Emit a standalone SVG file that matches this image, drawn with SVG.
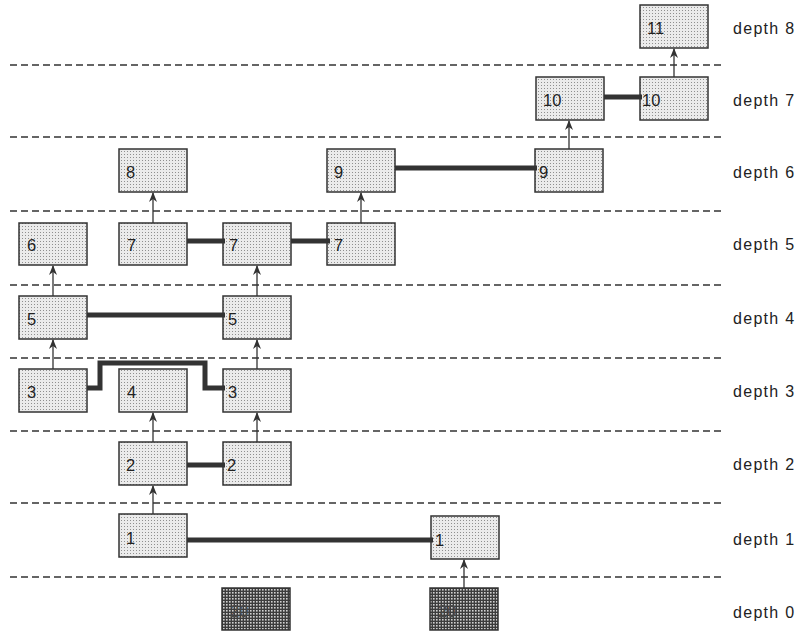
<svg xmlns="http://www.w3.org/2000/svg" width="799" height="634" viewBox="0 0 799 634">
<defs>
<pattern id="dots" width="3" height="3" patternUnits="userSpaceOnUse">
<rect width="3" height="3" fill="#ebebeb"/>
<rect x="1" y="1" width="1" height="1" fill="#8f8f8f"/>
</pattern>
<pattern id="dark" width="3" height="3" patternUnits="userSpaceOnUse">
<rect width="3" height="3" fill="#3c3c3c"/>
<rect x="1" y="1" width="1.6" height="1.6" fill="#d0d0d0"/>
</pattern>
<marker id="arr" viewBox="0 0 10 10" refX="9" refY="5" markerWidth="10" markerHeight="10" orient="auto" markerUnits="userSpaceOnUse">
<path d="M0,1 L10,5 L0,9 L3,5 Z" fill="#333"/>
</marker>
</defs>
<style>
.box{fill:url(#dots);stroke:#333;stroke-width:1.5}
.dbox{fill:url(#dark);stroke:#333;stroke-width:1.5}
.num{font-family:"Liberation Sans",Arial,sans-serif;font-size:16.5px;fill:#222}
.dnum{font-family:"Liberation Sans",Arial,sans-serif;font-size:16.5px;fill:#4a4a4a}
.lbl{font-family:"Liberation Sans",Arial,sans-serif;font-size:16px;letter-spacing:1.3px;fill:#222}
.dash{stroke:#333;stroke-width:1.3;stroke-dasharray:7 4;fill:none}
.arrow{stroke:#333;stroke-width:1.3;fill:none;marker-end:url(#arr)}
.link{stroke:#333;stroke-width:5;fill:none}
</style>
<g id="separators">
<line class="dash" x1="10" y1="65" x2="725" y2="65"/>
<line class="dash" x1="10" y1="137" x2="725" y2="137"/>
<line class="dash" x1="10" y1="211" x2="725" y2="211"/>
<line class="dash" x1="10" y1="285" x2="725" y2="285"/>
<line class="dash" x1="10" y1="358" x2="725" y2="358"/>
<line class="dash" x1="10" y1="431" x2="725" y2="431"/>
<line class="dash" x1="10" y1="503" x2="725" y2="503"/>
<line class="dash" x1="10" y1="577" x2="725" y2="577"/>
</g>
<g id="labels">
<text class="lbl" x="733" y="34">depth 8</text>
<text class="lbl" x="733" y="106">depth 7</text>
<text class="lbl" x="733" y="178">depth 6</text>
<text class="lbl" x="733" y="250">depth 5</text>
<text class="lbl" x="733" y="324">depth 4</text>
<text class="lbl" x="733" y="397">depth 3</text>
<text class="lbl" x="733" y="470">depth 2</text>
<text class="lbl" x="733" y="545">depth 1</text>
<text class="lbl" x="733" y="618">depth 0</text>
</g>
<g id="n11"><rect class="box" x="640" y="5" width="68" height="43"/><text class="num" x="647" y="34">11</text></g>
<g id="n10a"><rect class="box" x="536" y="77" width="68" height="43"/><text class="num" x="543" y="106">10</text></g>
<g id="n10b"><rect class="box" x="640" y="77" width="68" height="43"/><text class="num" x="642" y="106">10</text></g>
<g id="n8"><rect class="box" x="119" y="149" width="68" height="43"/><text class="num" x="126" y="178">8</text></g>
<g id="n9a"><rect class="box" x="327" y="149" width="68" height="43"/><text class="num" x="334" y="178">9</text></g>
<g id="n9b"><rect class="box" x="535" y="149" width="68" height="43"/><text class="num" x="539" y="178">9</text></g>
<g id="n6"><rect class="box" x="19" y="223" width="68" height="42"/><text class="num" x="27" y="251">6</text></g>
<g id="n7a"><rect class="box" x="119" y="223" width="68" height="42"/><text class="num" x="127" y="251">7</text></g>
<g id="n7b"><rect class="box" x="223" y="223" width="68" height="42"/><text class="num" x="229" y="251">7</text></g>
<g id="n7c"><rect class="box" x="327" y="223" width="68" height="42"/><text class="num" x="334" y="251">7</text></g>
<g id="n5a"><rect class="box" x="19" y="296" width="68" height="43"/><text class="num" x="27" y="325">5</text></g>
<g id="n5b"><rect class="box" x="223" y="296" width="68" height="43"/><text class="num" x="228" y="325">5</text></g>
<g id="n3a"><rect class="box" x="19" y="369" width="68" height="43"/><text class="num" x="27" y="398">3</text></g>
<g id="n4"><rect class="box" x="119" y="369" width="68" height="43"/><text class="num" x="127" y="398">4</text></g>
<g id="n3b"><rect class="box" x="223" y="369" width="68" height="43"/><text class="num" x="228" y="398">3</text></g>
<g id="n2a"><rect class="box" x="119" y="442" width="68" height="43"/><text class="num" x="126" y="471">2</text></g>
<g id="n2b"><rect class="box" x="223" y="442" width="68" height="43"/><text class="num" x="227" y="471">2</text></g>
<g id="n1a"><rect class="box" x="119" y="514" width="68" height="43"/><text class="num" x="126" y="544">1</text></g>
<g id="n1b"><rect class="box" x="431" y="516" width="68" height="43"/><text class="num" x="435" y="546">1</text></g>
<g id="n20a"><rect class="dbox" x="222" y="588" width="68" height="42"/><text class="dnum" x="230" y="617">20</text></g>
<g id="n20b"><rect class="dbox" x="430" y="588" width="68" height="42"/><text class="dnum" x="438" y="617">20</text></g>
<g id="connectors">
<line class="arrow" x1="464" y1="588" x2="464" y2="560"/>
<line class="arrow" x1="153" y1="514" x2="153" y2="486"/>
<line class="arrow" x1="153" y1="442" x2="153" y2="413"/>
<line class="arrow" x1="257" y1="442" x2="257" y2="413"/>
<line class="arrow" x1="53" y1="369" x2="53" y2="340"/>
<line class="arrow" x1="257" y1="369" x2="257" y2="340"/>
<line class="arrow" x1="53" y1="296" x2="53" y2="266"/>
<line class="arrow" x1="257" y1="296" x2="257" y2="266"/>
<line class="arrow" x1="153" y1="223" x2="153" y2="193"/>
<line class="arrow" x1="361" y1="223" x2="361" y2="193"/>
<line class="arrow" x1="569" y1="149" x2="569" y2="121"/>
<line class="arrow" x1="674" y1="77" x2="674" y2="49"/>
<line class="link" x1="604" y1="97" x2="642" y2="97"/>
<line class="link" x1="395" y1="168" x2="537" y2="168"/>
<line class="link" x1="187" y1="241" x2="225" y2="241"/>
<line class="link" x1="291" y1="241" x2="330" y2="241"/>
<line class="link" x1="87" y1="315" x2="225" y2="315"/>
<polyline class="link" points="87,388 100,388 100,363 205,363 205,388 225,388"/>
<line class="link" x1="187" y1="465" x2="225" y2="465"/>
<line class="link" x1="187" y1="540" x2="433" y2="540"/>
</g>
</svg>
